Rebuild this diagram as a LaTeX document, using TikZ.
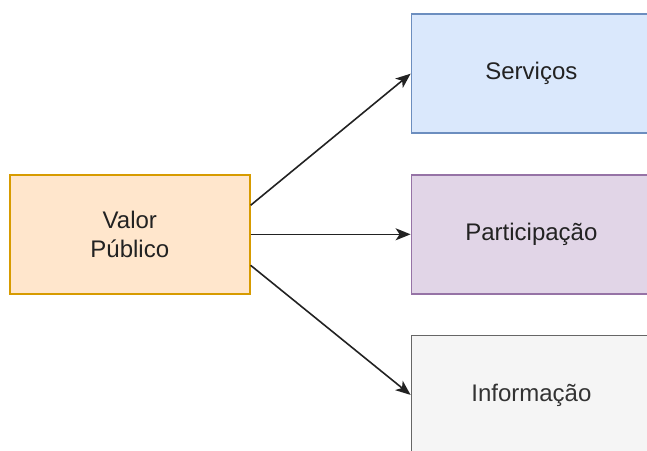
\documentclass[tikz,border=0pt]{standalone}
\usepackage{fontspec}
\setmainfont{Liberation Sans}
\usepackage{xcolor}
\usetikzlibrary{arrows.meta,positioning}

\definecolor{valorfill}{HTML}{FFE6CC}
\definecolor{valorline}{HTML}{D79B00}
\definecolor{servfill}{HTML}{DAE8FC}
\definecolor{servline}{HTML}{6C8EBF}
\definecolor{partfill}{HTML}{E1D5E7}
\definecolor{partline}{HTML}{9673A6}
\definecolor{infofill}{HTML}{F5F5F5}
\definecolor{infoline}{HTML}{666666}
\definecolor{infotext}{HTML}{333333}
\definecolor{boxtext}{HTML}{222222}

\tikzset{
    box/.style={draw, line width=1.6pt, minimum width=240pt, minimum height=119pt,
        align=center, text=boxtext, font=\fontsize{24}{29}\selectfont, inner sep=0pt},
    link/.style={line width=1.6pt, draw=boxtext, -{Stealth[length=15pt,width=12pt,inset=4pt]}}
}

\begin{document}
\begin{tikzpicture}[x=1pt,y=-1pt]
    \useasboundingbox (0,0) rectangle (647,450);
    \clip (0,0) rectangle (647,450);

    \node[box, fill=valorfill, draw=valorline, anchor=north west] (valor) at (9,174) {Valor\\Público};

    \node[box, fill=partfill, draw=partline, right=160pt of valor] (participacao) {Participação};
    \node[box, fill=servfill, draw=servline, above=40pt of participacao] (servicos) {Serviços};
    \node[box, fill=infofill, draw=infoline, text=infotext, below=40pt of participacao] (informacao) {Informação};

    \draw[link] ([yshift=29pt]valor.east) -- (servicos.west);
    \draw[link] (valor) -- (participacao);
    \draw[link] ([yshift=-31pt]valor.east) -- (informacao.west);
\end{tikzpicture}
\end{document}
